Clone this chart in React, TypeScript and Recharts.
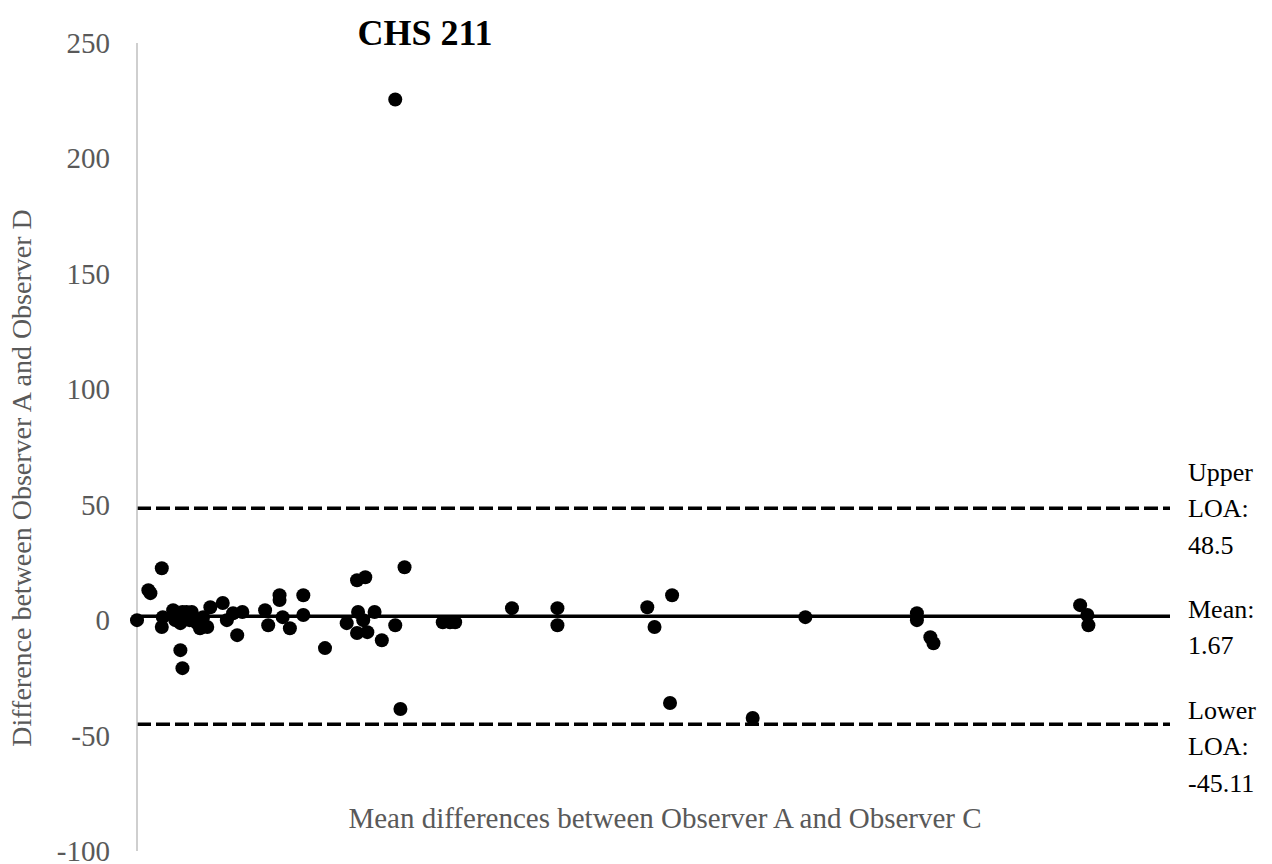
import {
  ReferenceLine,
  Scatter,
  ScatterChart,
  XAxis,
  YAxis,
} from "recharts";

// Bland-Altman style: mean of A/C vs difference A-D
const meanAC = [
  0, 1.1, 1.3, 2.4, 2.5, 2.4, 3.5, 3.7, 4.2, 4.4, 4.8, 5.1, 5.3, 5.8, 6.1,
  6.4, 6.8, 7.1, 4.2, 4.4, 8.3, 8.7, 9.3, 9.7, 10.2, 12.4, 12.7, 13.8, 13.8,
  14.1, 14.8, 16.1, 16.1, 18.2, 20.3, 21.4, 21.3, 22.1, 21.3, 22.3, 21.9,
  23.0, 23.7, 25.0, 25.9, 25.0, 25.5, 29.6, 30.3, 30.8, 36.3, 40.7, 40.7,
  49.4, 50.1, 51.8, 51.6, 59.6, 64.7, 75.5, 75.5, 76.8, 77.1, 91.3, 92.0,
  92.1,
];
const diffAD = [
  0, 13, 11.7, 22.5, 1.3, -3, 4.3, 0, -1.3, 3.5, 3.5, 0, 3.5, -1.3, -3.5,
  1.3, -3, 5.6, -13, -20.8, 7.4, 0, 3, -6.5, 3.5, 4.3, -2.2, 10.8, 8.7, 1.3,
  -3.5, 10.8, 2.2, -12.1, -1.3, 3.5, 17.3, 18.6, -5.6, -5.2, 0, 3.5, -8.7,
  -2.2, 22.9, 225.5, -38.5, -0.9, -0.9, -0.9, 5.2, 5.2, -2.2, 5.6, -3, 10.8,
  -35.9, -42.4, 1.3, 3, 0, -7.4, -10, 6.5, 2.2, -2.2,
];
const yTicks = [-100, -50, 0, 50, 100, 150, 200, 250];

const meanDiff = 1.67;
const upperLoa = 48.5;
const lowerLoa = -45.11;

const upperLabel = ["Upper", "LOA:", "48.5"];
const meanLabel = ["Mean:", "1.67"];
const lowerLabel = ["Lower", "LOA:", "-45.11"];

const points = meanAC.map((x, i) => ({ x, y: diffAD[i] }));

const FONT = "'Liberation Serif', 'Times New Roman', serif";

const sideLabel = (lines: string[], startDy: number) => (props: any) => {
  const vb = props.viewBox || {};
  const x = vb.x + vb.width + 18;
  const y = vb.y;
  return (
    <text x={x} y={y} style={{ fontFamily: FONT, fontSize: 26 }} fill="#000">
      {lines.map((t, i) => (
        <tspan key={i} x={x} y={y + startDy + i * 36.5} dominantBaseline="central">
          {t}
        </tspan>
      ))}
    </text>
  );
};

const YTick = (props: any) => {
  const { x, y, payload } = props;
  return (
    <text
      x={x}
      y={y}
      textAnchor="end"
      dominantBaseline="central"
      fill="#595959"
      style={{ fontFamily: FONT, fontSize: 29 }}
    >
      {payload.value}
    </text>
  );
};

export default function App() {
  return (
    <div style={{ position: "relative", width: 1264, height: 856, fontFamily: FONT }}>
      <ScatterChart
        width={1264}
        height={856}
        margin={{ top: 35, right: 102, bottom: 13, left: 0 }}
        style={{ fontFamily: FONT }}
      >
        <XAxis type="number" dataKey="x" domain={[0, 100]} hide />
        <YAxis
          type="number"
          dataKey="y"
          domain={[-100, 250]}
          ticks={yTicks}
          width={129}
          tickLine={false}
          tickSize={0}
          tickMargin={27}
          axisLine={{ stroke: "#bfbfbf", strokeWidth: 1.5 }}
          tick={<YTick />}
          interval={0}
        />
        <ReferenceLine
          y={upperLoa}
          stroke="#000"
          strokeWidth={3.5}
          strokeDasharray="14 5"
          label={sideLabel(upperLabel, -36)}
        />
        <ReferenceLine
          y={meanDiff}
          stroke="#000"
          strokeWidth={3.5}
          label={sideLabel(meanLabel, -7)}
        />
        <ReferenceLine
          y={lowerLoa}
          stroke="#000"
          strokeWidth={3.5}
          strokeDasharray="14 5"
          label={sideLabel(lowerLabel, -14)}
        />
        <Scatter
          data={points}
          fill="#000"
          shape={(p: any) => <circle cx={p.cx} cy={p.cy} r={7} fill="#000" />}
          isAnimationActive={false}
        />
      </ScatterChart>
      <div
        style={{
          position: "absolute",
          left: 417,
          top: 25,
          transform: "translate(-50%, -50%)",
          fontSize: 36,
          fontWeight: "bold",
          whiteSpace: "nowrap",
          color: "#000",
        }}
      >
        CHS 211
      </div>
      <div
        style={{
          position: "absolute",
          left: 657,
          top: 810,
          transform: "translate(-50%, -50%)",
          fontSize: 29,
          whiteSpace: "nowrap",
          color: "#595959",
        }}
      >
        Mean differences between Observer A and Observer C
      </div>
      <div
        style={{
          position: "absolute",
          left: 14,
          top: 470,
          transform: "translate(-50%, -50%) rotate(-90deg)",
          fontSize: 28,
          whiteSpace: "nowrap",
          color: "#595959",
        }}
      >
        Difference between Observer A and Observer D
      </div>
    </div>
  );
}
